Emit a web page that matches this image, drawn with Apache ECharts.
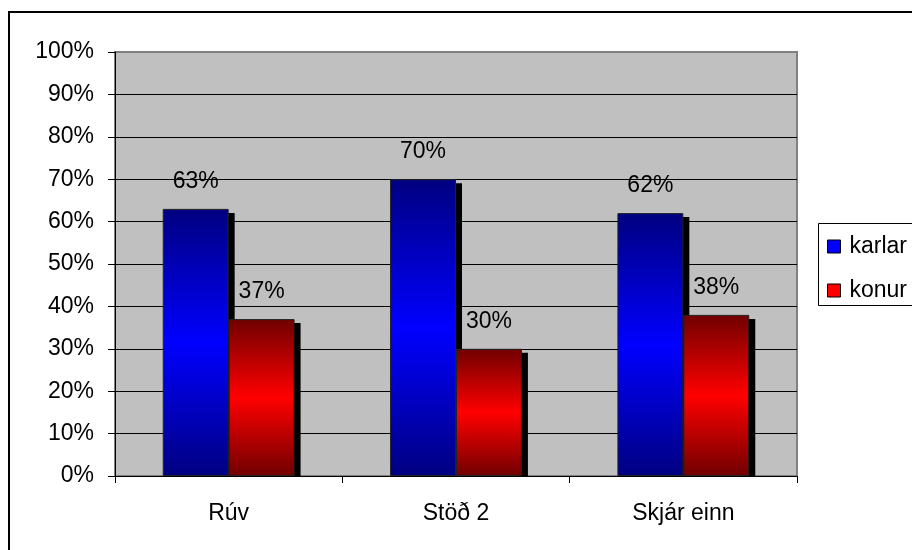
<!DOCTYPE html>
<html>
<head>
<meta charset="utf-8">
<script src="https://cdn.jsdelivr.net/npm/echarts@6/dist/echarts.min.js"></script>
<style>html,body{margin:0;padding:0;background:#fff;}#c{width:912px;height:550px;}</style>
</head>
<body>
<div id="c"></div>
<script>
var categories = ['Rúv', 'Stöð 2', 'Skjár einn'];
var karlar = [63, 70, 62];
var konur = [37, 30, 38];
var seriesNames = ['karlar', 'konur'];

var FONT = '"Liberation Sans", Arial, sans-serif';
var FS = 23;
var BAR_RATIO = 0.29;
function grad(dark, bright) {
  return new echarts.graphic.LinearGradient(0, 0, 0, 1, [
    {offset: 0, color: dark}, {offset: 0.5, color: bright}, {offset: 1, color: dark}
  ]);
}
var shadowData = [];
[karlar, konur].forEach(function (arr, s) {
  arr.forEach(function (v, i) { shadowData.push([i, v, s]); });
});

var chart = echarts.init(document.getElementById('c'));
var splitColors = [];
for (var i = 0; i < 11; i++) splitColors.push(i === 10 ? '#808080' : '#000000');

chart.setOption({
  animation: false,
  textStyle: {fontFamily: FONT},
  graphic: [{
    type: 'rect', left: 8, top: 11, z: -10,
    shape: {width: 930, height: 560},
    style: {fill: '#fff', stroke: '#000', lineWidth: 2}
  }, {
    type: 'rect', left: 818, top: 223, z: -5,
    shape: {width: 120, height: 82},
    style: {fill: '#fff', stroke: '#000', lineWidth: 1}
  }],
  grid: {left: 115, top: 52, right: 115, bottom: 74, show: true,
    backgroundColor: '#c0c0c0', borderColor: '#808080', borderWidth: 2},
  legend: {
    orient: 'vertical', left: 827, top: 235, padding: 0,
    itemWidth: 13, itemHeight: 13, itemGap: 21, icon: 'rect',
    textStyle: {fontSize: FS, color: '#000', fontFamily: FONT, lineHeight: 22, padding: [0, 0, 0, 4]},
    data: [
      {name: seriesNames[0], itemStyle: {color: '#0000ff', borderColor: '#000', borderWidth: 1}},
      {name: seriesNames[1], itemStyle: {color: '#ff0000', borderColor: '#000', borderWidth: 1}}
    ]
  },
  xAxis: {
    type: 'category', data: categories,
    axisLine: {lineStyle: {color: '#000', width: 1}},
    axisTick: {show: true, length: 7, alignWithLabel: false, lineStyle: {color: '#000'}},
    axisLabel: {fontSize: FS, color: '#000', margin: 26, fontFamily: FONT},
    splitLine: {show: false}
  },
  yAxis: {
    type: 'value', min: 0, max: 100, interval: 10,
    axisLine: {show: true, lineStyle: {color: '#000', width: 1}},
    axisTick: {show: true, length: 7, lineStyle: {color: '#000'}},
    axisLabel: {formatter: '{value}%', fontSize: FS, color: '#000', margin: 21, fontFamily: FONT},
    splitLine: {show: true, lineStyle: {color: splitColors, width: 1}}
  },
  series: [{
    name: 'shadow', type: 'custom', z: 1, silent: true,
    data: shadowData,
    renderItem: function (params, api) {
      var cat = api.value(0), v = api.value(1), s = api.value(2);
      var base = api.coord([cat, 0]);
      var top = api.coord([cat, v]);
      var band = api.size([1, 0])[0];
      var bw = band * BAR_RATIO;
      var x0 = base[0] + (s === 0 ? -bw : 0);
      return {type: 'rect', shape: {x: x0 + 6, y: top[1] + 4, width: bw, height: base[1] - top[1] - 4},
        style: {fill: '#000'}};
    }
  }, {
    name: seriesNames[0], type: 'bar', data: karlar, barWidth: (BAR_RATIO * 100) + '%', barGap: '0%', z: 3,
    itemStyle: {color: grad('#000080', '#0000ff'), borderColor: '#222', borderWidth: 1},
    label: {show: true, position: 'top', distance: 16, formatter: '{c}%', fontSize: FS, color: '#000', fontFamily: FONT}
  }, {
    name: seriesNames[1], type: 'bar', data: konur, barWidth: (BAR_RATIO * 100) + '%', barGap: '0%', z: 3,
    itemStyle: {color: grad('#700000', '#ff0000'), borderColor: '#222', borderWidth: 1},
    label: {show: true, position: 'top', distance: 16, formatter: '{c}%', fontSize: FS, color: '#000', fontFamily: FONT}
  }]
});
</script>
</body>
</html>
